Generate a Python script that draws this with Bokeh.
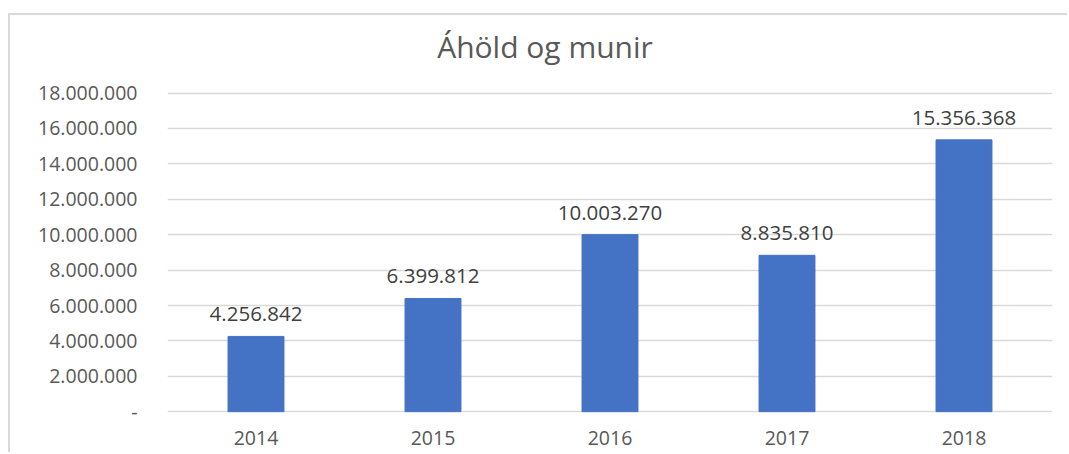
from bokeh.plotting import figure
from bokeh.models import ColumnDataSource, FixedTicker, CustomJSTickFormatter, LabelSet, Label, Range1d
from bokeh.embed import file_html
from bokeh.resources import INLINE
from bokeh.core.properties import value

title = "Áhöld og munir"
years = ["2014", "2015", "2016", "2017", "2018"]
values = [4256842, 6399812, 10003270, 8835810, 15356368]
labels = ["4.256.842", "6.399.812", "10.003.270", "8.835.810", "15.356.368"]
yticks = [0, 2000000, 4000000, 6000000, 8000000, 10000000, 12000000, 14000000, 16000000, 18000000]

FONT = "Open Sans"
Y0, Y1 = -40000, 18030000      # value span of the gridded area
GRID_H = 320                   # pixel height of the gridded area
H, TOP, BOTTOM = 439, 10, 42
FRAME_H = H - TOP - BOTTOM
px = (Y1 - Y0) / GRID_H        # data units per pixel
Y_END = Y1 + (FRAME_H - GRID_H) * px

src = ColumnDataSource(dict(x=years, top=values, label=labels))

p = figure(x_range=years, y_range=Range1d(Y0, Y_END), width=1059, height=H,
           output_backend="svg", toolbar_location=None,
           min_border_left=157, min_border_right=17, min_border_top=TOP, min_border_bottom=BOTTOM)
p.styles = {"border-left": "2px solid #d9d9d9", "border-top": "2px solid #d9d9d9",
            "margin-left": "8px", "margin-top": "13px"}

p.vbar(x="x", top="top", width=0.316, source=src, color="#4472C4")

p.add_layout(LabelSet(x="x", y="top", text="label", source=src, text_align="center",
                      text_baseline="bottom", y_offset=15, text_font=value(FONT),
                      text_font_size="20.5px", text_color="#404040"))

# chart title, 45px above the top gridline, centred over the whole chart box
p.add_layout(Label(x=len(years) / 2, y=Y1 + 46 * px, x_offset=-65, text=title,
                   text_align="center", text_baseline="middle", text_font=FONT,
                   text_font_size="30px", text_color="#595959"))

p.yaxis.ticker = FixedTicker(ticks=yticks)
p.yaxis.formatter = CustomJSTickFormatter(code="""
if (tick == 0) return '-';
return tick.toString().replace(/\\B(?=(\\d{3})+(?!\\d))/g, '.');
""")
for ax in (p.xaxis, p.yaxis):
    ax.axis_line_color = None
    ax.major_tick_line_color = None
    ax.minor_tick_line_color = None
    ax.major_label_text_font = FONT
    ax.major_label_text_font_size = "19.5px"
    ax.major_label_text_color = "#595959"
p.yaxis.major_label_standoff = 24
p.xaxis.major_label_standoff = 12

p.xgrid.grid_line_color = None
p.ygrid.grid_line_color = "#d9d9d9"
p.ygrid.grid_line_width = 1.5
p.outline_line_color = None
p.x_range.range_padding = 0

open("out.html", "w").write(file_html(p, INLINE))
